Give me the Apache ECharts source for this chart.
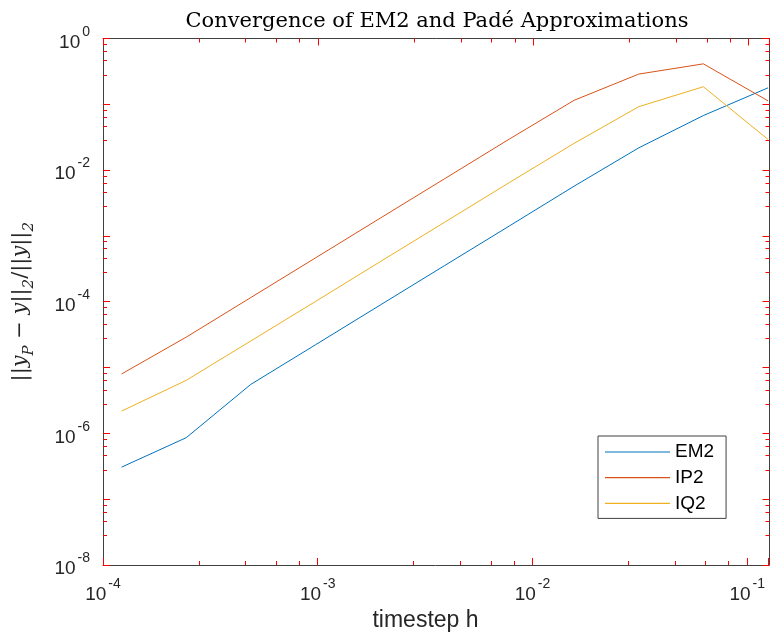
<!DOCTYPE html>
<html><head><meta charset="utf-8">
<script src="https://cdn.jsdelivr.net/npm/echarts@6/dist/echarts.min.js"></script>
<style>html,body{margin:0;padding:0;background:#fff}#c{width:771px;height:639px}</style>
</head><body><div id="c"></div>
<script>
// ---- data ----
const hValues = [0.0001220703125, 0.000244140625, 0.00048828125, 0.0009765625, 0.001953125, 0.00390625, 0.0078125, 0.015625, 0.03125, 0.0625, 0.125];
const em2 = [3.07e-7, 8.6e-7, 5.56e-6, 2.22e-5, 8.9e-5, 3.56e-4, 1.42e-3, 5.7e-3, 2.18e-2, 6.75e-2, 1.78e-1];
const ip2 = [8.0e-6, 2.9e-5, 1.16e-4, 4.64e-4, 1.86e-3, 7.43e-3, 2.97e-2, 1.15e-1, 2.88e-1, 4.12e-1, 1.13e-1];
const iq2 = [2.18e-6, 6.4e-6, 2.54e-5, 1.01e-4, 4.06e-4, 1.62e-3, 6.49e-3, 2.55e-2, 9.2e-2, 1.85e-1, 2.93e-2];
const seriesNames = ['EM2', 'IP2', 'IQ2'];
const xTickExponents = [-4, -3, -2, -1];
const yTickExponents = [-8, -6, -4, -2, 0];
const xMin = 1e-4, xMax = 0.125, yMin = 1e-8, yMax = 1;
const titleText = 'Convergence of EM2 and Padé Approximations';
const xName = 'timestep h';

const lg = Math.log10;

const TXT = '#262626';
const AX = '#404040';
const TICK = '#ff0000';
const FONT = '"Liberation Sans", Arial, Helvetica, sans-serif';
const SERIF = '"DejaVu Serif", "Liberation Serif", serif';
const colors = ['#0072BD', '#D95319', '#EDB120'];

function makeLabel(allowed) {
  return function (v) {
    const e = Math.round(lg(v));
    if (Math.abs(lg(v) - e) > 1e-6 || allowed.indexOf(e) < 0) return '';
    return '{b|10}{s|' + e + '}';
  };
}
const labelRich = {
  b: { fontSize: 19, fontFamily: FONT, color: TXT, verticalAlign: 'bottom', lineHeight: 27 },
  s: { fontSize: 14, fontFamily: FONT, color: TXT, verticalAlign: 'top', lineHeight: 27, padding: [0, 0, 0, 2] }
};

function logAxis(isX, grid, pos, showLabel) {
  const a = {
    type: 'log', logBase: 10, gridIndex: grid, position: pos,
    min: isX ? xMin : yMin, max: isX ? xMax : yMax,
    axisLine: { show: true, onZero: false, lineStyle: { color: AX, width: 1 } },
    axisTick: { show: true, inside: true, length: 7, lineStyle: { color: TICK, width: 1 } },
    minorTick: { show: true, length: 4, lineStyle: { color: TICK, width: 1 } },
    axisLabel: showLabel
      ? { show: true, formatter: makeLabel(isX ? xTickExponents : yTickExponents), rich: labelRich, margin: isX ? 12 : 13 }
      : { show: false },
    splitLine: { show: false }, minorSplitLine: { show: false }
  };
  if (showLabel && isX) {
    a.name = xName; a.nameLocation = 'middle'; a.nameGap = 42;
    a.nameTextStyle = { fontSize: 23, fontFamily: FONT, color: TXT, padding: [0, 20, 0, 0] };
  }
  if (showLabel && !isX) {
    a.name = '{n|||}{i|y}{sub|P}{n| − }{i|y}{n|||}{sub|2}{n|/||}{i|y}{n|||}{sub|2}';
    a.nameLocation = 'middle'; a.nameRotate = 90; a.nameGap = 66;
    a.nameTextStyle = {
      rich: {
        n: { fontSize: 21, fontFamily: SERIF, color: TXT, verticalAlign: 'middle', lineHeight: 32 },
        i: { fontSize: 21, fontFamily: SERIF, fontStyle: 'italic', color: TXT, verticalAlign: 'middle', lineHeight: 32 },
        sub: { fontSize: 15, fontFamily: SERIF, fontStyle: 'italic', color: TXT, verticalAlign: 'bottom', lineHeight: 32 }
      }
    };
  }
  return a;
}

const gridRect = { left: 103, right: 1.5, top: 38.5, bottom: 74, containLabel: false };

const option = {
  animation: false,
  backgroundColor: '#ffffff',
  color: colors,
  grid: [Object.assign({}, gridRect), Object.assign({}, gridRect)],
  xAxis: [logAxis(true, 0, 'bottom', true), logAxis(true, 1, 'top', false)],
  yAxis: [logAxis(false, 0, 'left', true), logAxis(false, 1, 'right', false)],
  legend: {
    orient: 'vertical', left: 598, top: 436,
    data: seriesNames,
    icon: 'rect',
    backgroundColor: '#fff', borderColor: AX, borderWidth: 1,
    padding: [6, 12, 5, 7],
    itemWidth: 65, itemHeight: 1.2, itemGap: 5.7,
    textStyle: { fontSize: 19, fontFamily: FONT, color: '#000', lineHeight: 20 }
  },
  graphic: [{
    type: 'text', x: 437, y: 11,
    style: { text: titleText, font: '21px ' + SERIF, fill: '#000', align: 'center', verticalAlign: 'top' }
  }],
  series: [em2, ip2, iq2].map((vals, i) => ({
    name: seriesNames[i], type: 'line', xAxisIndex: 0, yAxisIndex: 0,
    symbol: 'none', showSymbol: false, lineStyle: { width: 1, color: colors[i] },
    itemStyle: { color: colors[i] },
    data: hValues.map((h, k) => [h, vals[k]])
  }))
};
const chart = echarts.init(document.getElementById('c'), null, { renderer: 'canvas' });
chart.setOption(option);
</script>
</body></html>
